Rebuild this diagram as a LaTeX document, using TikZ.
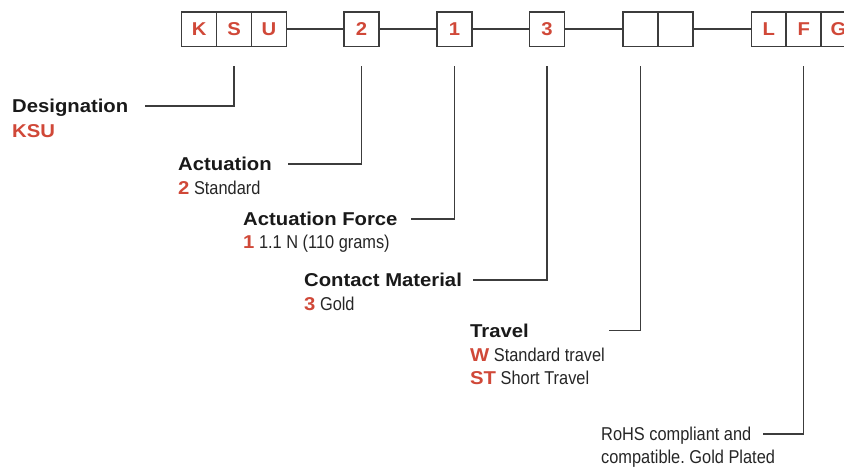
\documentclass[tikz,border=0pt]{standalone}
\usepackage{fontspec}
\setmainfont{Liberation Sans}
\newfontfamily\boldfont[FakeStretch=1.09]{Liberation Sans}
\newfontfamily\narrowfont[FakeStretch=0.88]{Liberation Sans}
\usepackage{xcolor}
\definecolor{codered}{RGB}{208,72,56}
\definecolor{linegray}{RGB}{60,60,60}
\usetikzlibrary{positioning}
\frenchspacing

\newcommand{\cd}[1]{{\boldfont\bfseries\color{codered}#1}}

\begin{document}
\begin{tikzpicture}[x=1pt, y=-1pt,
    every node/.style={inner sep=0pt, font=\fontsize{18.6}{22}\selectfont},
    cell/.style={draw=linegray, line width=1.5pt, minimum width=35pt, minimum height=34.5pt,
        text=codered, font=\boldfont\bfseries\fontsize{18.6}{22}\selectfont},
    title/.style={anchor=base west, text=black!90, font=\boldfont\bfseries\fontsize{18.6}{22}\selectfont},
    detail/.style={anchor=base west, text=black!85, font=\narrowfont\fontsize{18.6}{22}\selectfont},
    lead/.style={draw=linegray, line width=1.4pt}]
    \useasboundingbox (0,0) rectangle (844,467);

    % Order code boxes
    \foreach \name/\x/\label in {K/199.2/K, S/234.1/S, U/269/U, two/361.5/2, one/454.5/1,
        three/547/3, ea/640.3/, eb/675.3/, L/768.8/L, F/803.7/F, G/838.5/G} {
        \node[cell] (\name) at (\x,29) {\label};
    }
    \foreach \a/\b in {U/two, two/one, one/three, three/ea, eb/L} {
        \draw[lead] (\a) -- (\b);
    }

    % Option labels
    \node[title] (desig) at (12,112.7) {Designation};
    \node[title, text=codered] (desigc) at (12,137.3) {KSU};
    \node[title] (act) at (178,170.5) {Actuation};
    \node[detail] (actc) at (178,194) {\cd{2} Standard};
    \node[title] (force) at (243,225.6) {Actuation Force};
    \node[detail] (forcec) at (243,248.5) {\cd{1} 1.1 N (110 grams)};
    \node[title] (mat) at (304,286.7) {Contact Material};
    \node[detail] (matc) at (304,310) {\cd{3} Gold};
    \node[title] (trav) at (470,337.3) {Travel};
    \node[detail] (travw) at (470,361.7) {\cd{W} Standard travel};
    \node[detail] (travs) at (470,384) {\cd{ST} Short Travel};
    \node[detail] (rohs) at (601,440.7) {RoHS compliant and};
    \node[detail] (rohsb) at (601,463.3) {compatible. Gold Plated};

    % Leader lines
    \draw[lead] ([yshift=-19pt]S.south) |- ([xshift=17pt, yshift=6.7pt]desig.base east);
    \draw[lead] ([yshift=-19pt]two.south) |- ([xshift=16pt, yshift=6.7pt]act.base east);
    \draw[lead] ([yshift=-19pt]one.south) |- ([xshift=13pt, yshift=6.7pt]force.base east);
    \draw[lead] ([yshift=-19pt]three.south) |- ([xshift=11pt, yshift=6.7pt]mat.base east);
    \draw[lead] ([yshift=-19pt]ea.south) |- ([xshift=80pt, yshift=6.7pt]trav.base east);
    \draw[lead] ([yshift=-19pt]F.south) |- ([xshift=11pt, yshift=6.7pt]rohs.base east);
\end{tikzpicture}
\end{document}
